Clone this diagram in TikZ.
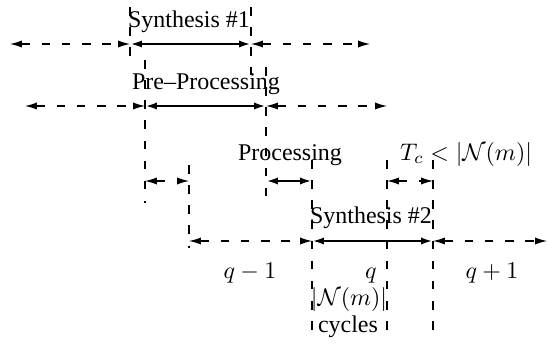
\documentclass[tikz,border=0pt]{standalone}
\usepackage{amsmath,amssymb}
\usepackage{fontspec}
\setmainfont{Liberation Serif}
\usetikzlibrary{arrows.meta}
\tikzset{
  span/.style={
    {Latex[length=5pt,width=3pt]}-{Latex[length=5pt,width=3pt]},
    dash pattern=on 3.6pt off 4.8pt,line width=.45pt
  },
  task/.style={
    {Latex[length=5pt,width=3pt]}-{Latex[length=5pt,width=3pt]},
    line width=1pt
  },
  tick/.style={dash pattern=on 3.6pt off 4.8pt,line width=.45pt},
  lbl/.style={inner sep=0pt,anchor=base}
}

\begin{document}
\begin{tikzpicture}[x=0.417pt,y=-0.417pt]
\useasboundingbox (0,0) rectangle (547,347);

% time points of the rows
\coordinate (syn1L) at (10,44);
\coordinate (syn1a) at (130,44);
\coordinate (syn1b) at (251,44);
\coordinate (syn1R) at (370,44);

\coordinate (preL) at (25,106);
\coordinate (prea) at (145,106);
\coordinate (preb) at (266,106);
\coordinate (preR) at (387,106);

\coordinate (gapa) at (145,181);
\coordinate (gapb) at (189,181);
\coordinate (proca) at (266,181);
\coordinate (procb) at (312,181);
\coordinate (tca) at (387,181);
\coordinate (tcb) at (433,181);

\coordinate (syn2L) at (189,241);
\coordinate (syn2a) at (312,241);
\coordinate (syn2b) at (433,241);
\coordinate (syn2R) at (547,241);

% ends of the dashed markers
\coordinate (m1top) at (130,7);   \coordinate (m1bot) at (130,57);
\coordinate (m2top) at (251,7);   \coordinate (m2bot) at (251,75);
\coordinate (m3top) at (145,60);  \coordinate (m3bot) at (145,203);
\coordinate (m4top) at (266,67);  \coordinate (m4bot) at (266,197);
\coordinate (m5top) at (189,165); \coordinate (m5bot) at (189,248);
\coordinate (m6top) at (312,160); \coordinate (m6bot) at (312,335);
\coordinate (m7top) at (387,160); \coordinate (m7bot) at (387,335);
\coordinate (m8top) at (433,160); \coordinate (m8bot) at (433,335);

\draw[tick] (m1top)--(m1bot);
\draw[tick] (m2top)--(m2bot);
\draw[tick] (m3top)--(m3bot);
\draw[tick] (m4top)--(m4bot);
\draw[tick] (m5top)--(m5bot);
\draw[tick] (m6top)--(m6bot);
\draw[tick] (m7top)--(m7bot);
\draw[tick] (m8top)--(m8bot);

\draw[span] (syn1L)--(syn1a);
\draw[task] (syn1a)--(syn1b);
\draw[span] (syn1b)--(syn1R);

\draw[span] (preL)--(prea);
\draw[task] (prea)--(preb);
\draw[span] (preb)--(preR);

\draw[span] (gapa)--(gapb);
\draw[task] (proca)--(procb);
\draw[span] (tca)--(tcb);

\draw[span] (syn2L)--(syn2a);
\draw[task] (syn2a)--(syn2b);
\draw[span] (syn2b)--(syn2R);

\node[lbl] (syn1) at (189,28) {Synthesis \#1};
\node[lbl] (pre) at (206,90) {Pre--Processing};
\node[lbl] (proc) at (290,160) {Processing};
\node[lbl] (tc) at (466,160) {$T_c<|\mathcal{N}(m)|$};
\node[lbl] (syn2) at (371,223) {Synthesis \#2};
\node[lbl] (qm) at (250,278) {$q-1$};
\node[lbl] (q) at (371,278) {$q$};
\node[lbl] (qp) at (492,278) {$q+1$};
\node[lbl] (nm) at (349,305) {$|\mathcal{N}(m)|$};
\node[lbl] (cyc) at (348,332) {cycles};
\end{tikzpicture}
\end{document}
